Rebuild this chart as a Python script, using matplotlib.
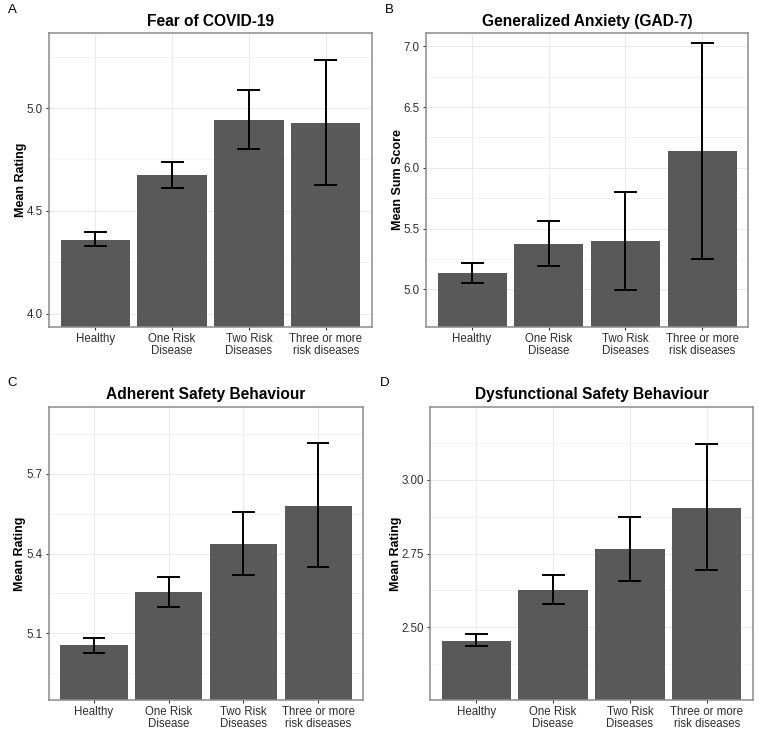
import matplotlib
matplotlib.use("Agg")
import matplotlib.pyplot as plt

plt.rcParams['font.family'] = ['Liberation Sans', 'DejaVu Sans']

groups = ["Healthy", "One Risk\nDisease", "Two Risk\nDiseases", "Three or more\nrisk diseases"]

# panel A - fear of covid
fear_mean = [4.359, 4.674, 4.943, 4.927]
fear_lo = [4.330, 4.613, 4.802, 4.625]
fear_hi = [4.396, 4.738, 5.088, 5.232]

# panel B - GAD-7
gad_mean = [5.137, 5.376, 5.401, 6.140]
gad_lo = [5.052, 5.195, 4.997, 5.250]
gad_hi = [5.219, 5.560, 5.802, 7.027]

# panel C - adherent safety behaviour
adh_mean = [5.056, 5.256, 5.437, 5.579]
adh_lo = [5.028, 5.201, 5.318, 5.349]
adh_hi = [5.084, 5.310, 5.556, 5.815]

# panel D - dysfunctional safety behaviour
dys_mean = [2.455, 2.627, 2.765, 2.905]
dys_lo = [2.437, 2.580, 2.657, 2.694]
dys_hi = [2.478, 2.677, 2.874, 3.119]

W, H = 760, 731
fig = plt.figure(figsize=(W / 100, H / 100), dpi=100)


def px_axes(l, r, t, b):
    return fig.add_axes([l / W, 1 - b / H, (r - l) / W, (b - t) / H])


def panel(ax, letter, title, ylab, mean, lo, hi, ylim, major, minor, fmt,
          lab_px, let_px, let_dy, title_pad):
    x = list(range(1, len(mean) + 1))
    ax.set_axisbelow(True)
    ax.bar(x, mean, width=0.9, color="#595959", zorder=2)
    ax.vlines(x, lo, hi, color="black", lw=1.4, zorder=3)
    ax.hlines(lo, [i - 0.15 for i in x], [i + 0.15 for i in x], color="black", lw=1.4, zorder=3)
    ax.hlines(hi, [i - 0.15 for i in x], [i + 0.15 for i in x], color="black", lw=1.4, zorder=3)
    pad = (ylim[1] - ylim[0]) * 0.05
    ax.set_ylim(ylim[0] - pad, ylim[1] + pad)
    ax.set_xlim(0.4, 4.6)
    ax.set_yticks(major)
    ax.set_yticklabels([fmt.format(v) for v in major])
    ax.set_yticks(minor, minor=True)
    ax.set_xticks(x)
    ax.set_xticklabels(groups, linespacing=1.1)
    ax.grid(True, which="major", color="#ebebeb", lw=0.8)
    ax.grid(True, which="minor", axis="y", color="#f2f2f2", lw=0.6)
    ax.tick_params(axis="both", which="major", length=2.5, color="#333333",
                   labelcolor="#2e2e2e", labelsize=8.3)
    ax.tick_params(axis="x", which="major", pad=1.5)
    ax.tick_params(axis="y", which="major", pad=2)
    ax.tick_params(axis="y", which="minor", length=0)
    for s in ax.spines.values():
        s.set_color("#8c8c8c")
        s.set_linewidth(1.1)
    ax.set_title(title, fontsize=11.2, fontweight="bold", pad=title_pad)
    ax.set_ylabel(ylab, fontsize=9, fontweight="bold")
    bb = ax.get_position()
    wpx = bb.width * W
    hpx = bb.height * H
    ax.yaxis.set_label_coords(-lab_px / wpx, 0.5)
    ax.text(-let_px / wpx, 1 + let_dy / hpx, letter, transform=ax.transAxes,
            fontsize=9.5, va="center", ha="center")


axA = px_axes(49, 372, 33, 327)
panel(axA, "A", "Fear of COVID-19", "Mean Rating", fear_mean, fear_lo, fear_hi,
      (4.0, 5.3), [4.0, 4.5, 5.0], [4.25, 4.75, 5.25], "{:.1f}", 22, 37, 23, 5)

axB = px_axes(426, 748, 33, 327)
panel(axB, "B", "Generalized Anxiety (GAD-7)", "Mean Sum Score", gad_mean, gad_lo, gad_hi,
      (4.8, 7.0), [5.0, 5.5, 6.0, 6.5, 7.0], [4.75, 5.25, 5.75, 6.25, 6.75], "{:.1f}",
      22, 37, 23, 5)

axC = px_axes(49, 363, 407, 700)
panel(axC, "C", "Adherent Safety Behaviour", "Mean Rating", adh_mean, adh_lo, adh_hi,
      (4.9, 5.9), [5.1, 5.4, 5.7], [4.95, 5.25, 5.55, 5.85], "{:.1f}", 23, 37, 24, 6)

axD = px_axes(430, 753, 407, 700)
panel(axD, "D", "Dysfunctional Safety Behaviour", "Mean Rating", dys_mean, dys_lo, dys_hi,
      (2.3, 3.2), [2.5, 2.75, 3.0], [2.375, 2.625, 2.875, 3.125], "{:.2f}", 28, 45, 24, 6)

fig.savefig("out.png", dpi=100)
